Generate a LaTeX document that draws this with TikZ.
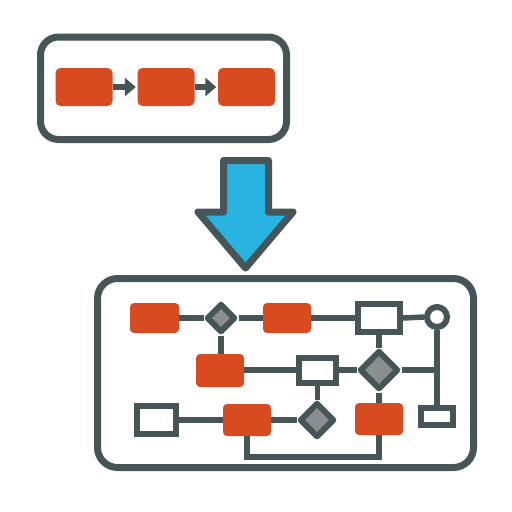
\documentclass[tikz,border=0pt]{standalone}
\usetikzlibrary{shapes.geometric,arrows.meta}
\definecolor{dk}{HTML}{465558}
\definecolor{org}{HTML}{D84B20}
\definecolor{gry}{HTML}{8C8F8F}
\definecolor{blu}{HTML}{29B3E1}
\begin{document}
\begin{tikzpicture}[x=1pt,y=-1pt,
  frame/.style={draw=dk,line width=7pt,rounded corners=18pt,fill=white,inner sep=0pt,rectangle},
  obig/.style={fill=org,rounded corners=5pt,inner sep=0pt,minimum width=57pt,minimum height=38pt,rectangle},
  osmall/.style={fill=org,rounded corners=4pt,inner sep=0pt,minimum width=48pt,minimum height=31pt,rectangle},
  wbox/.style={draw=dk,fill=white,line width=6pt,inner sep=0pt,rectangle},
  dia/.style={draw=dk,fill=gry,line width=6pt,inner sep=0pt,diamond,aspect=1,line join=round},
  circ/.style={draw=dk,fill=white,line width=6pt,inner sep=0pt,circle,minimum size=20pt},
  conn/.style={draw=dk,line width=5.5pt},
  harrow/.style={draw=dk,line width=6pt,-{Triangle[length=11pt,width=18pt]},shorten >=1.5pt}
]
\useasboundingbox (0,0) rectangle (512,512);

% top frame
\node[frame,minimum width=246pt,minimum height=102.5pt] (top) at (163.5,88.25) {};
\node[obig] (a1) at (84,87) {};
\node[obig] (a2) at (166,87) {};
\node[obig] (a3) at (246.5,87) {};
\draw[harrow] (a1.east) -- (a2.west);
\draw[harrow] (a2.east) -- (a3.west);

% bottom frame
\node[frame,minimum width=376pt,minimum height=189pt,rounded corners=20pt] (bot) at (285.5,373) {};

% big arrow
\draw[draw=dk,fill=blu,line width=7pt,line join=round]
  (223.5,160.5) -- (268.5,160.5) -- (268.5,212) -- (293,212) -- (245.5,268) -- (198,212) -- (223.5,212) -- cycle;

% bottom nodes
\node[osmall,minimum width=49pt,minimum height=30pt] (o1) at (154.5,318) {};
\node[dia,minimum size=29pt] (d1) at (221,318) {};
\node[osmall,minimum height=30pt] (o2) at (287,318) {};
\node[wbox,minimum width=42pt,minimum height=28pt] (r1) at (379,318) {};
\node[circ] (c1) at (437,317) {};
\node[osmall,minimum height=33pt] (o3) at (220,370.5) {};
\node[wbox,minimum width=37pt,minimum height=25pt] (r2) at (317.5,370) {};
\node[dia,minimum size=39pt] (d2) at (379,370) {};
\node[wbox,minimum width=39pt,minimum height=28pt] (r3) at (156,420) {};
\node[osmall,minimum height=32pt] (o4) at (247,420) {};
\node[dia,minimum size=35pt] (d3) at (317,420) {};
\node[osmall,minimum height=32pt] (o5) at (379,419) {};
\node[wbox,minimum width=32pt,minimum height=17pt] (r4) at (437,416.5) {};

\coordinate (j) at (437,370);
\coordinate (lb) at (313,457);

% connectors
\draw[conn] (o1.east) -- (d1.west);
\draw[conn] (d1.east) -- (o2.west);
\draw[conn] (o2.east) -- (r1.west);
\draw[conn] (r1.east) -- (c1.west);
\draw[conn] (d1.south) -- (d1.south |- o3.north);
\draw[conn] (c1.south) -- (r4.north);
\draw[conn] (o3.east |- r2.west) -- (r2.west);
\draw[conn] (r2.east) -- (d2.west);
\draw[conn] (d2.east) -- (j);
\draw[conn] (r1.south) -- (d2.north);
\draw[conn] (d2.south) -- (o5.north);
\draw[conn] (r2.south) -- (r2.south |- d3.north);
\draw[conn] (r3.east) -- (o4.west);
\draw[conn] (o4.east) -- (d3.west);
\draw[conn] (o4.south) |- (lb) -| (o5.south);
\end{tikzpicture}
\end{document}
